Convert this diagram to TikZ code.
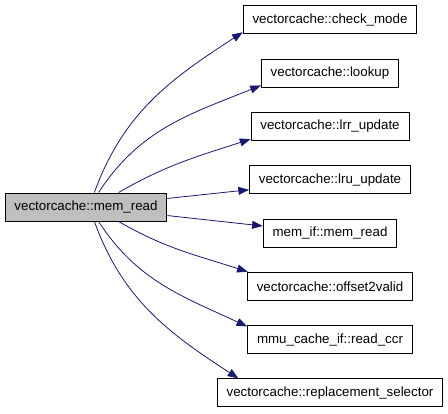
\documentclass[tikz,border=0pt]{standalone}
\usepackage{fontspec}
\setmainfont{Liberation Sans}
\usepackage{tikz}
\usetikzlibrary{positioning, arrows.meta}
\definecolor{edgeblue}{HTML}{191970}
\definecolor{callergray}{HTML}{BFBFBF}

\begin{document}
\begin{tikzpicture}[
  x=0.75pt, y=-0.75pt,
  node distance=18.2pt,
  fn/.style={draw=black, line width=0.75pt, fill=white,
             minimum height=21pt, inner xsep=7pt, inner ysep=0pt,
             font=\fontsize{10}{12}\selectfont},
  caller/.style={fn, fill=callergray},
  call/.style={-{Triangle[length=8pt, width=6pt]}, color=edgeblue,
               line width=0.6pt}
]
\useasboundingbox (0,0) rectangle (448,413);

\node[caller] (memread) at (86,207) {vectorcache::mem\_read};

\node[fn] (checkmode) at (330,20) {vectorcache::check\_mode};
\node[fn, below=of checkmode] (lookup) {vectorcache::lookup};
\node[fn, below=of lookup] (lrrupdate) {vectorcache::lrr\_update};
\node[fn, below=of lrrupdate] (lruupdate) {vectorcache::lru\_update};
\node[fn, below=of lruupdate] (memif) {mem\_if::mem\_read};
\node[fn, below=of memif] (offvalid) {vectorcache::offset2valid};
\node[fn, below=of offvalid] (readccr) {mmu\_cache\_if::read\_ccr};
\node[fn, below=of readccr] (replsel) {vectorcache::replacement\_selector};

\draw[call] (memread.60) to[out=70, in=213] (checkmode.188);
\draw[call] (memread.49) to[out=57, in=202] (lookup.190);
\draw[call] (memread.24) to[out=30, in=198] (lrrupdate.189);
\draw[call] (memread.6) -- (lruupdate.187);
\draw[call] (memread.-6) -- (memif.174);
\draw[call] (memread.-24) to[out=-30, in=162] (offvalid.170);
\draw[call] (memread.-49) to[out=-57, in=155] (readccr.171);
\draw[call] (memread.-60) to[out=-70, in=147] (replsel.171);
\end{tikzpicture}
\end{document}
